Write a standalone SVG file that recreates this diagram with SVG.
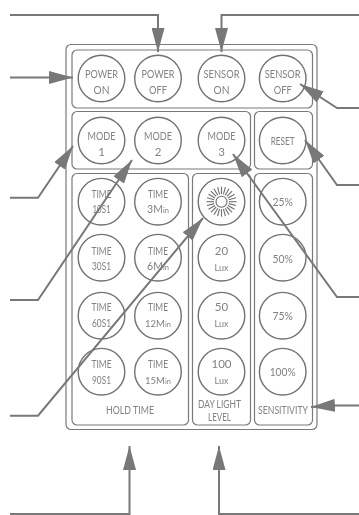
<svg xmlns="http://www.w3.org/2000/svg" width="359" height="515" viewBox="0 0 359 515">
<style>
.panel{fill:none;stroke:#7a7a7a;stroke-width:1.2}
.btn{fill:#fff;stroke:#727272;stroke-width:1.4}
text{font-family:"Lato","Liberation Sans",sans-serif;font-weight:400;font-size:11.5px;fill:#828282;text-anchor:middle;filter:url(#g)}
.s{font-size:9px}
.d{font-size:10.5px}
.m{font-size:10.5px}
.m2{font-size:9.5px}
.i{font-size:7.5px}
.conn{fill:none;stroke:#787878;stroke-width:2}
.head{fill:#787878}
.ray{stroke:#6e6e6e;stroke-width:1.1;fill:none}
</style>
<defs>
<filter id="g" color-interpolation-filters="sRGB"><feColorMatrix type="saturate" values="0"/></filter>
<circle id="c" class="btn" r="23.3"/>
<line id="r" class="ray" x1="7.500" y1="0" x2="15" y2="0"/>
<marker id="a" markerUnits="userSpaceOnUse" markerWidth="24" markerHeight="13" refX="24" refY="6.500" orient="auto"><path class="head" d="M0 0L24 6.500L0 13Z"/></marker>
</defs>
<g id="panels">
<rect class="panel" x="66" y="44.500" width="251" height="385" rx="5"/>
<rect class="panel" x="72" y="50" width="240.500" height="58" rx="5"/>
<rect class="panel" x="72" y="111.500" width="178.500" height="57.500" rx="5"/>
<rect class="panel" x="254.500" y="111.500" width="58" height="57.500" rx="5"/>
<rect class="panel" x="72" y="173.500" width="116.500" height="251.500" rx="5"/>
<rect class="panel" x="192.500" y="173.500" width="58" height="251.500" rx="5"/>
<rect class="panel" x="254.500" y="173.500" width="58" height="251.500" rx="5"/>
</g>
<g id="power-on"><use href="#c" x="101.500" y="78.500"/><text x="101.500" y="78" textLength="33" lengthAdjust="spacingAndGlyphs">POWER</text><text x="101.500" y="93.500" textLength="16" lengthAdjust="spacingAndGlyphs">ON</text></g>
<g id="power-off"><use href="#c" x="158" y="78.500"/><text x="158" y="78" textLength="33" lengthAdjust="spacingAndGlyphs">POWER</text><text x="158" y="93.500" textLength="18" lengthAdjust="spacingAndGlyphs">OFF</text></g>
<g id="sensor-on"><use href="#c" x="221.500" y="78.500"/><text x="221.500" y="78" textLength="36" lengthAdjust="spacingAndGlyphs">SENSOR</text><text x="221.500" y="93.500" textLength="16" lengthAdjust="spacingAndGlyphs">ON</text></g>
<g id="sensor-off"><use href="#c" x="282.700" y="78.500"/><text x="282.700" y="78" textLength="36" lengthAdjust="spacingAndGlyphs">SENSOR</text><text x="282.700" y="93.500" textLength="18" lengthAdjust="spacingAndGlyphs">OFF</text></g>
<g id="mode-1"><use href="#c" x="101.500" y="140.500"/><text x="101.500" y="140" textLength="28" lengthAdjust="spacingAndGlyphs">MODE</text><text x="101.500" y="156">1</text></g>
<g id="mode-2"><use href="#c" x="158" y="140.500"/><text x="158" y="140" textLength="28" lengthAdjust="spacingAndGlyphs">MODE</text><text x="158" y="156">2</text></g>
<g id="mode-3"><use href="#c" x="221.500" y="140.500"/><text x="221.500" y="140" textLength="28" lengthAdjust="spacingAndGlyphs">MODE</text><text x="221.500" y="156">3</text></g>
<g id="reset"><use href="#c" x="282.700" y="140.500"/><text x="282.700" y="144.500" textLength="24" lengthAdjust="spacingAndGlyphs">RESET</text></g>
<g id="time-10"><use href="#c" x="101.500" y="201.700"/><text x="101.500" y="198" textLength="20" lengthAdjust="spacingAndGlyphs">TIME</text><text x="101.500" y="212.700" textLength="18" lengthAdjust="spacingAndGlyphs">10S1</text></g>
<g id="time-3"><use href="#c" x="158" y="201.700"/><text x="158" y="198" textLength="20" lengthAdjust="spacingAndGlyphs">TIME</text><text class="m" x="158" y="212.700">3M<tspan class="i">in</tspan></text></g>
<g id="time-30"><use href="#c" x="101.500" y="257.700"/><text x="101.500" y="255" textLength="20" lengthAdjust="spacingAndGlyphs">TIME</text><text x="101.500" y="270" textLength="19" lengthAdjust="spacingAndGlyphs">30S1</text></g>
<g id="time-6"><use href="#c" x="158" y="257.700"/><text x="158" y="255" textLength="20" lengthAdjust="spacingAndGlyphs">TIME</text><text class="m" x="158" y="270">6M<tspan class="i">in</tspan></text></g>
<g id="time-60"><use href="#c" x="101.500" y="315.700"/><text x="101.500" y="311" textLength="20" lengthAdjust="spacingAndGlyphs">TIME</text><text x="101.500" y="326.700" textLength="19" lengthAdjust="spacingAndGlyphs">60S1</text></g>
<g id="time-12"><use href="#c" x="158" y="315.700"/><text x="158" y="311" textLength="20" lengthAdjust="spacingAndGlyphs">TIME</text><text class="m2" x="158" y="326.700">12M<tspan class="i">in</tspan></text></g>
<g id="time-90"><use href="#c" x="101.500" y="371.700"/><text x="101.500" y="368" textLength="20" lengthAdjust="spacingAndGlyphs">TIME</text><text x="101.500" y="383.500" textLength="19" lengthAdjust="spacingAndGlyphs">90S1</text></g>
<g id="time-15"><use href="#c" x="158" y="371.700"/><text x="158" y="368" textLength="20" lengthAdjust="spacingAndGlyphs">TIME</text><text class="m2" x="158" y="383.500">15M<tspan class="i">in</tspan></text></g>
<g id="hold-time"><text x="130" y="414" textLength="48" lengthAdjust="spacingAndGlyphs">HOLD TIME</text></g>
<g id="sun"><use href="#c" x="221.500" y="201.700"/><circle cx="221.500" cy="201.700" r="5.500" class="ray"/>
<g transform="translate(221.500 201.700)">
<use href="#r" transform="rotate(0)"/><use href="#r" transform="rotate(15)"/><use href="#r" transform="rotate(30)"/><use href="#r" transform="rotate(45)"/><use href="#r" transform="rotate(60)"/><use href="#r" transform="rotate(75)"/><use href="#r" transform="rotate(90)"/><use href="#r" transform="rotate(105)"/><use href="#r" transform="rotate(120)"/><use href="#r" transform="rotate(135)"/><use href="#r" transform="rotate(150)"/><use href="#r" transform="rotate(165)"/><use href="#r" transform="rotate(180)"/><use href="#r" transform="rotate(195)"/><use href="#r" transform="rotate(210)"/><use href="#r" transform="rotate(225)"/><use href="#r" transform="rotate(240)"/><use href="#r" transform="rotate(255)"/><use href="#r" transform="rotate(270)"/><use href="#r" transform="rotate(285)"/><use href="#r" transform="rotate(300)"/><use href="#r" transform="rotate(315)"/><use href="#r" transform="rotate(330)"/><use href="#r" transform="rotate(345)"/>
</g></g>
<g id="lux-20"><use href="#c" x="221.500" y="257.700"/><text x="221.500" y="255">20</text><text x="221.500" y="271" class="s">Lux</text></g>
<g id="lux-50"><use href="#c" x="221.500" y="315.700"/><text x="221.500" y="311">50</text><text x="221.500" y="327" class="s">Lux</text></g>
<g id="lux-100"><use href="#c" x="221.500" y="371.700"/><text x="221.500" y="368">100</text><text x="221.500" y="384" class="s">Lux</text></g>
<g id="day-light"><text class="d" x="219.500" y="408" textLength="43" lengthAdjust="spacingAndGlyphs">DAY LIGHT</text><text class="d" x="219.500" y="420.500" textLength="23" lengthAdjust="spacingAndGlyphs">LEVEL</text></g>
<g id="pct-25"><use href="#c" x="282.700" y="201.700"/><text x="282.700" y="206" textLength="20.500" lengthAdjust="spacingAndGlyphs">25%</text></g>
<g id="pct-50"><use href="#c" x="282.700" y="257.700"/><text x="282.700" y="263" textLength="20.500" lengthAdjust="spacingAndGlyphs">50%</text></g>
<g id="pct-75"><use href="#c" x="282.700" y="315.700"/><text x="282.700" y="320" textLength="20.500" lengthAdjust="spacingAndGlyphs">75%</text></g>
<g id="pct-100"><use href="#c" x="282.700" y="371.700"/><text x="282.700" y="376" textLength="26" lengthAdjust="spacingAndGlyphs">100%</text></g>
<g id="sensitivity"><text x="283" y="414" textLength="50" lengthAdjust="spacingAndGlyphs">SENSITIVITY</text></g>
<g id="connectors">
<path class="conn" marker-end="url(#a)" d="M10 15H158V52"/>
<path class="conn" marker-end="url(#a)" d="M359 15H221.500V52"/>
<path class="conn" marker-end="url(#a)" d="M10 77.500H73"/>
<path class="conn" marker-end="url(#a)" d="M359 108H337L300 84"/>
<path class="conn" marker-end="url(#a)" d="M10 197.700H38L73 146"/>
<path class="conn" marker-end="url(#a)" d="M10 300H38L132 160"/>
<path class="conn" marker-end="url(#a)" d="M10 415.700H38L203 218"/>
<path class="conn" marker-end="url(#a)" d="M359 185H337L305 140"/>
<path class="conn" marker-end="url(#a)" d="M359 297H337L233 154"/>
<path class="conn" marker-end="url(#a)" d="M359 405.500H333L311 407"/>
<path class="conn" marker-end="url(#a)" d="M10 514H129.500V446"/>
<path class="conn" marker-end="url(#a)" d="M359 514H219V446"/>
</g>
</svg>
